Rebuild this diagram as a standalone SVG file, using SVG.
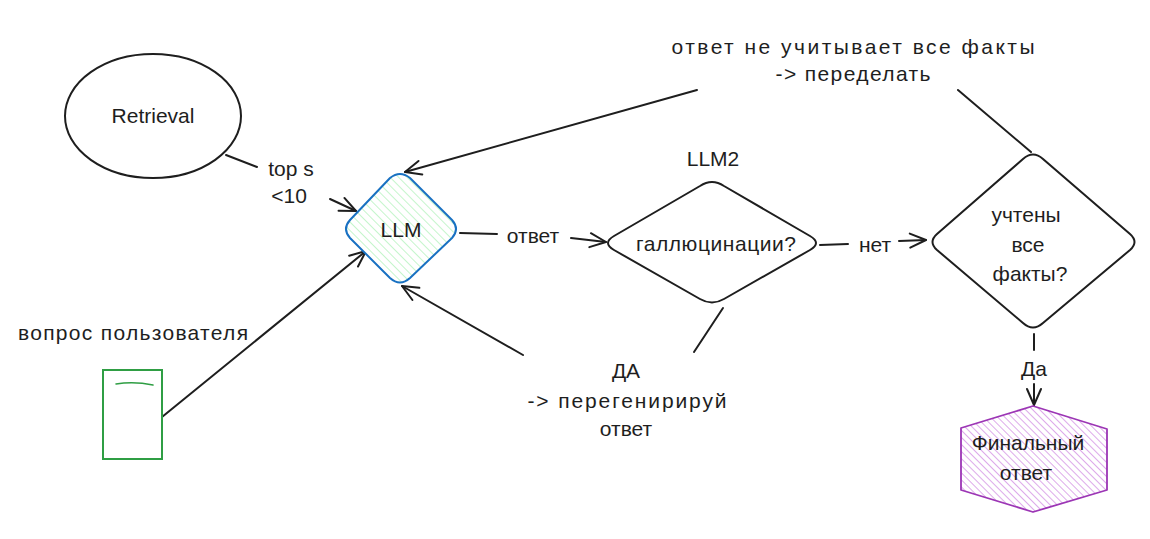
<svg xmlns="http://www.w3.org/2000/svg" width="1150" height="539" viewBox="0 0 1150 539">
<defs>
<style>
.t{font-family:"Liberation Sans","Noto Sans",sans-serif;font-size:21px;fill:#1e1e1e;text-anchor:middle;dominant-baseline:central}
.s{fill:none;stroke:#1e1e1e;stroke-width:2;stroke-linecap:round;stroke-linejoin:round}
.c{fill:none;stroke:#1e1e1e;stroke-width:2;stroke-linecap:round}
</style>
<pattern id="hg" patternUnits="userSpaceOnUse" width="6" height="6" patternTransform="rotate(-45)">
<rect width="6" height="6" fill="#ffffff"/>
<line x1="0" y1="0" x2="0" y2="6" stroke="#b2f2bb" stroke-width="1.5"/>
</pattern>
<pattern id="hp" patternUnits="userSpaceOnUse" width="5" height="5" patternTransform="rotate(-45)">
<rect width="5" height="5" fill="#ffffff"/>
<line x1="0" y1="0" x2="0" y2="5" stroke="#d9a0e8" stroke-width="1.8"/>
</pattern>
<marker id="a" viewBox="0 0 20 20" refX="18" refY="10" markerWidth="20" markerHeight="20" markerUnits="userSpaceOnUse" orient="auto">
<path d="M2,3 L18,10 L2,17" fill="none" stroke="#1e1e1e" stroke-width="2" stroke-linecap="round" stroke-linejoin="round"/>
</marker>
</defs>
<rect width="1150" height="539" fill="#ffffff"/>

<g id="connectors">
<line class="c" x1="226" y1="155" x2="257" y2="167"/>
<line class="c" x1="330" y1="199" x2="356" y2="211" marker-end="url(#a)"/>
<line class="c" x1="162" y1="417" x2="366" y2="251" marker-end="url(#a)"/>
<line class="c" x1="523" y1="355" x2="402" y2="286" marker-end="url(#a)"/>
<line class="c" x1="460" y1="233" x2="497" y2="234"/>
<line class="c" x1="571" y1="238" x2="606" y2="242" marker-end="url(#a)"/>
<line class="c" x1="820" y1="245" x2="848" y2="244"/>
<line class="c" x1="899" y1="241" x2="926" y2="240" marker-end="url(#a)"/>
<line class="c" x1="723" y1="308" x2="694" y2="352"/>
<line class="c" x1="1031" y1="152" x2="958" y2="90"/>
<line class="c" x1="697" y1="90" x2="405" y2="172" stroke="#444" marker-end="url(#a)"/>
<line class="c" x1="1034" y1="334" x2="1034" y2="350"/>
<line class="c" x1="1034" y1="384" x2="1034" y2="405" marker-end="url(#a)"/>
</g>

<g id="edge-labels">
<text class="t" x="291" y="168">top s</text>
<text class="t" x="289" y="195">&lt;10</text>
<text class="t" x="533" y="235">ответ</text>
<text class="t" x="875" y="244">нет</text>
<text class="t" x="853" y="46" textLength="363">ответ не учитывает все факты</text>
<text class="t" x="853" y="73" textLength="155">-&gt; переделать</text>
<text class="t" x="626" y="370">ДА</text>
<text class="t" x="627" y="400" textLength="199">-&gt; перегенирируй</text>
<text class="t" x="626" y="428">ответ</text>
<text class="t" x="1034" y="368">Да</text>
</g>

<g id="retrieval">
<ellipse class="s" cx="153" cy="116" rx="88" ry="62"/>
<text class="t" x="153" y="115">Retrieval</text>
</g>

<g id="llm">
<path d="M390,178 Q400,170 410,178 L452,220 Q460,229 452,238 L410,278 Q400,287 390,278 L350,238 Q342,229 350,220 Z" fill="url(#hg)" stroke="#1971c2" stroke-width="2" stroke-linejoin="round"/>
<text class="t" x="401" y="229">LLM</text>
</g>

<g id="llm2">
<text class="t" x="713" y="158">LLM2</text>
<path class="s" d="M700,186 Q712,178 724,186 L810,236 Q822,243 810,250 L724,299 Q712,306 700,299 L614,250 Q602,243 614,236 Z" fill="#ffffff"/>
<text class="t" x="716" y="243" textLength="160">галлюцинации?</text>
</g>

<g id="facts">
<path class="s" d="M1023,159 Q1033,150 1043,159 L1130,234 Q1139,242 1130,250 L1043,323 Q1033,332 1023,323 L937,250 Q928,242 937,234 Z" fill="#ffffff"/>
<text class="t" x="1026" y="214">учтены</text>
<text class="t" x="1028" y="244">все</text>
<text class="t" x="1030" y="273">факты?</text>
</g>

<g id="question">
<text class="t" x="133" y="332" textLength="230">вопрос пользователя</text>
<rect x="103" y="370" width="59" height="89" fill="#ffffff" stroke="#2f9e44" stroke-width="2"/>
<path d="M116,384 Q134,381 153,385" fill="none" stroke="#2f9e44" stroke-width="1.5" stroke-linecap="round"/>
</g>

<g id="final">
<polygon points="1033,406 1107,429 1107,490 1033,512 961,490 961,428" fill="url(#hp)" stroke="#9c36b5" stroke-width="1.8" stroke-linejoin="round"/>
<text class="t" x="1028" y="442">Финальный</text>
<text class="t" x="1026" y="472">ответ</text>
</g>
</svg>
